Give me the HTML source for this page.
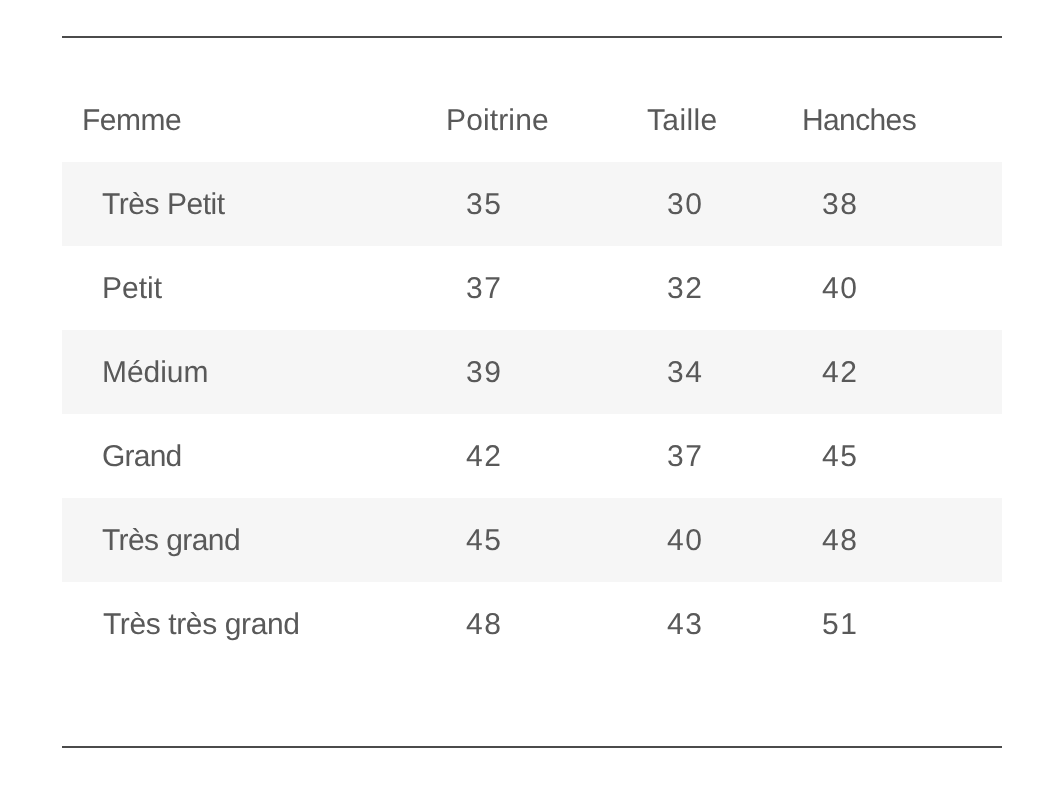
<!DOCTYPE html>
<html>
<head>
<meta charset="utf-8">
<style>
html,body{margin:0;padding:0;background:#fff;}
body{width:1058px;height:794px;position:relative;overflow:hidden;font-family:"Liberation Sans",sans-serif;color:#595959;}
.rule{position:absolute;left:62px;width:940px;height:2px;background:#4b4b4b;}
.row{position:absolute;left:62px;width:940px;height:84px;}
.s{background:#f6f6f6;}
.c{position:absolute;top:0.9px;will-change:transform;font-size:30px;line-height:84px;white-space:nowrap;text-rendering:geometricPrecision;}
.n{letter-spacing:1.499px;font-size:30px;}
</style>
</head>
<body>
<div class="rule" style="top:36px"></div>
<div class="row" style="top:78px">
  <div class="c" style="left:20.2px;letter-spacing:-0.52px">Femme</div>
  <div class="c" style="left:384.2px;letter-spacing:0.131px">Poitrine</div>
  <div class="c" style="left:585.16px;letter-spacing:0.366px">Taille</div>
  <div class="c" style="left:740.4px;letter-spacing:-0.625px">Hanches</div>
</div>
<div class="row s" style="top:162px">
  <div class="c" style="left:39.96px;letter-spacing:-0.466px">Très Petit</div>
  <div class="c n" style="left:403.8px">35</div>
  <div class="c n" style="left:604.8px">30</div>
  <div class="c n" style="left:760.2px">38</div>
</div>
<div class="row" style="top:246px">
  <div class="c" style="left:40.2px;letter-spacing:0.006px">Petit</div>
  <div class="c n" style="left:403.8px">37</div>
  <div class="c n" style="left:604.8px">32</div>
  <div class="c n" style="left:760.2px">40</div>
</div>
<div class="row s" style="top:330px">
  <div class="c" style="left:40.4px;letter-spacing:-0.066px">Médium</div>
  <div class="c n" style="left:403.8px">39</div>
  <div class="c n" style="left:604.8px">34</div>
  <div class="c n" style="left:760.2px">42</div>
</div>
<div class="row" style="top:414px">
  <div class="c" style="left:39.72px;letter-spacing:-0.772px">Grand</div>
  <div class="c n" style="left:403.8px">42</div>
  <div class="c n" style="left:604.8px">37</div>
  <div class="c n" style="left:760.2px">45</div>
</div>
<div class="row s" style="top:498px">
  <div class="c" style="left:39.7px;letter-spacing:-0.59px">Très grand</div>
  <div class="c n" style="left:403.8px">45</div>
  <div class="c n" style="left:604.8px">40</div>
  <div class="c n" style="left:760.2px">48</div>
</div>
<div class="row" style="top:582px">
  <div class="c" style="left:40.56px;letter-spacing:-0.383px">Très très grand</div>
  <div class="c n" style="left:403.8px">48</div>
  <div class="c n" style="left:604.8px">43</div>
  <div class="c n" style="left:760.2px">51</div>
</div>
<div class="rule" style="top:746px"></div>
</body>
</html>
